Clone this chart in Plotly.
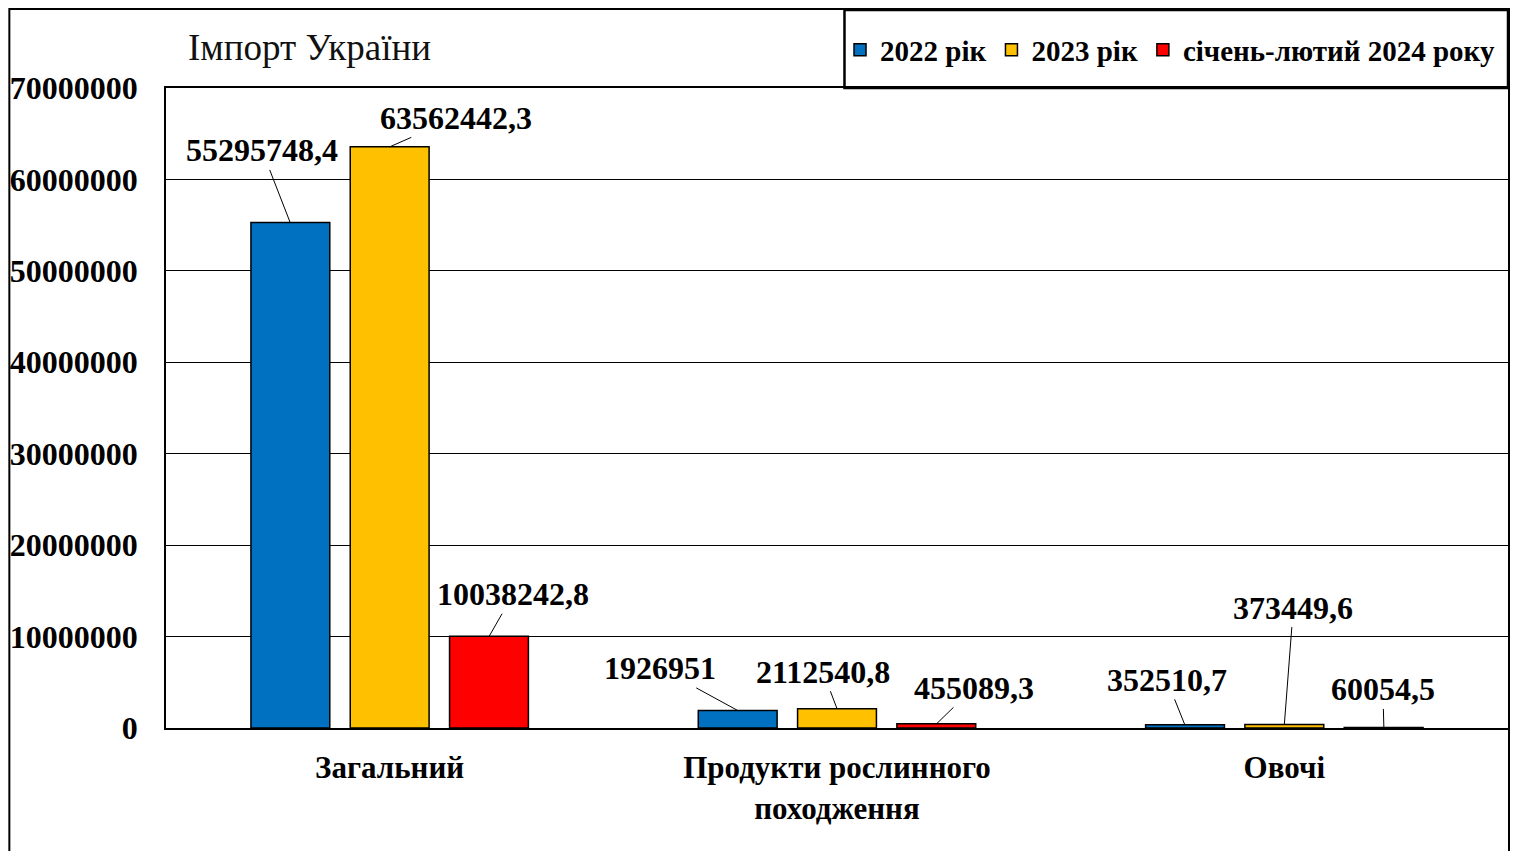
import plotly.graph_objects as go

# ---- data ----
categories = ["Загальний", "Продукти рослинного<br>походження", "Овочі"]
series_names = ["2022 рік", "2023 рік", "січень-лютий 2024 року"]
values_2022 = [55295748.4, 1926951, 352510.7]
values_2023 = [63562442.3, 2112540.8, 373449.6]
values_2024 = [10038242.8, 455089.3, 60054.5]
y_ticks = [0, 10000000, 20000000, 30000000, 40000000, 50000000, 60000000, 70000000]
title_text = "Імпорт України"

# ---- styles ----
colors = ["#0070C0", "#FFC000", "#FF0000"]
FONT = "Liberation Serif"
OFF = 8  # page body margin
W, H = 1504, 843
# page-pixel layout of the plot area
PL, PR, PT, PB = 165, 1510, 88, 728
ML, MT = PL - OFF, PT - OFF
MR = W - (PR - OFF)
MB = H - (PB - OFF)
BARGAP, GROUPGAP = 0.334, 0.206

# label offsets (text centre relative to bar top, px) per series per category
label_offsets = [
    [(-28, -72), (-77, -42), (-18, -45)],
    [(66, -29), (-14, -37), (9, -117)],
    [(24, -42), (37, -36), (-1, -38)],
]

def fmt(v):
    return str(v).replace(".", ",")

fig = go.Figure()
all_series = [values_2022, values_2023, values_2024]
for name, vals, col in zip(series_names, all_series, colors):
    fig.add_trace(go.Bar(
        x=categories, y=vals, name=name,
        marker=dict(color=col, line=dict(color="black", width=1.5)),
    ))

plot_w = PR - PL
plot_h = PB - PT
cat_w = plot_w / len(categories)
slot = cat_w * (1 - BARGAP) / len(all_series)
annotations = []
for si, vals in enumerate(all_series):
    shift = (si - (len(all_series) - 1) / 2) * slot
    for ci, (cat, v) in enumerate(zip(categories, vals)):
        ax, ay = label_offsets[si][ci]
        annotations.append(dict(
            x=cat, y=v, xref="x", yref="y", xshift=shift,
            text=fmt(v), showarrow=True, arrowhead=0, arrowwidth=1,
            arrowcolor="black", ax=ax, ay=ay,
            font=dict(family=FONT, size=32, color="black", weight="bold"),
        ))

def py(pix):  # page pixel-from-top -> paper y
    return (PB - pix) / plot_h
def px(pix):  # page pixel-from-left -> paper x
    return (pix - PL) / plot_w

shapes = [
    # outer frame
    dict(type="rect", xref="paper", yref="paper",
         x0=px(8), x1=px(1511), y0=py(900), y1=py(9),
         line=dict(color="black", width=2), fillcolor="rgba(0,0,0,0)", layer="above"),
    # legend box
    dict(type="rect", xref="paper", yref="paper",
         x0=px(845), x1=px(1510), y0=py(88), y1=py(10),
         line=dict(color="black", width=2.5), fillcolor="white", layer="below"),
]

fig.update_layout(
    width=W, height=H,
    margin=dict(l=ML, r=MR, t=MT, b=MB, pad=0),
    paper_bgcolor="white", plot_bgcolor="white",
    barmode="group", bargap=BARGAP, bargroupgap=GROUPGAP,
    font=dict(family=FONT, color="black"),
    title=dict(text=title_text, x=px(187), xref="paper", xanchor="left",
               y=1 - (47 - OFF) / H, yref="container", yanchor="middle",
               font=dict(family=FONT, size=37, color="#111111")),
    legend=dict(orientation="h", x=px(1502), xanchor="right", y=py(50), yanchor="middle",
                bgcolor="rgba(0,0,0,0)", borderwidth=0,
                font=dict(family=FONT, size=29, color="black", weight="bold"),
                traceorder="normal"),
    xaxis=dict(type="category", showline=True, linecolor="black", linewidth=2,
               mirror=True, showgrid=False, ticks="outside", ticklen=11,
               tickcolor="rgba(0,0,0,0)",
               tickfont=dict(family=FONT, size=31, color="black", weight="bold")),
    yaxis=dict(range=[0, 70000000], tickvals=y_ticks,
               ticktext=[str(t) for t in y_ticks],
               showline=True, linecolor="black", linewidth=1.5, mirror=True,
               showgrid=True, gridcolor="black", gridwidth=1, zeroline=False,
               ticks="outside", ticklen=20, tickcolor="rgba(0,0,0,0)",
               tickfont=dict(family=FONT, size=32, color="black", weight="bold")),
    annotations=annotations,
    shapes=shapes,
)

fig.write_html("out.html")
